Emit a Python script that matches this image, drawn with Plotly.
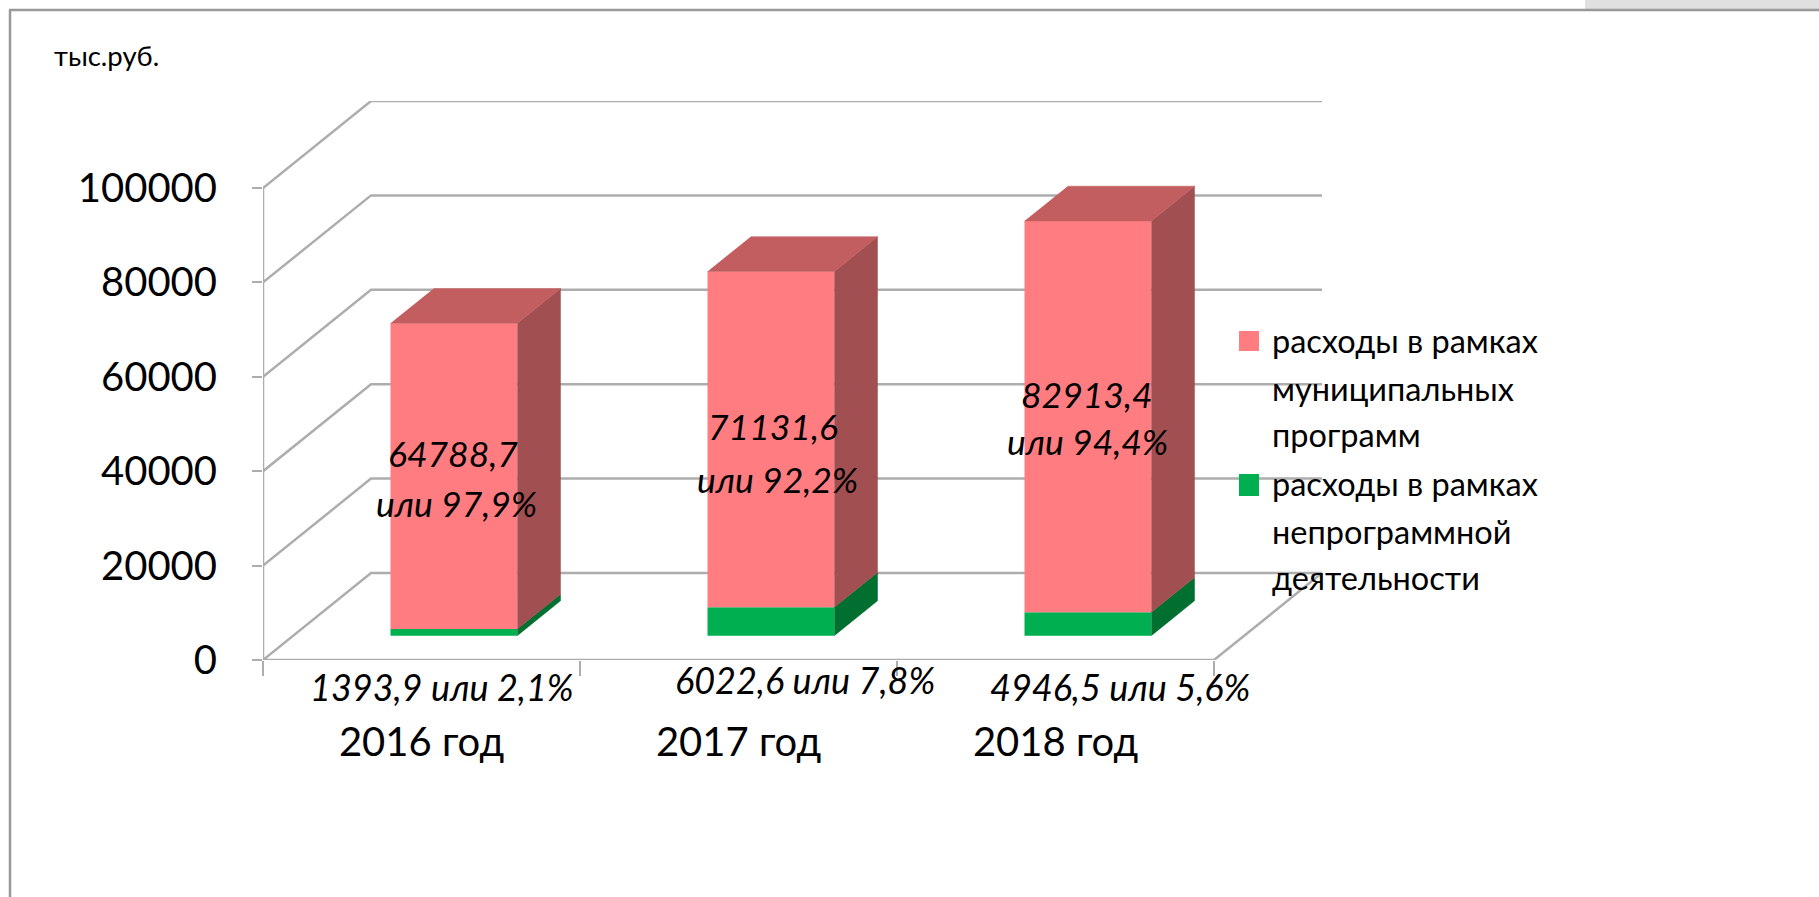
import plotly.graph_objects as go

# ---------- data ----------
categories = ["2016 год", "2017 год", "2018 год"]
municipal = [64788.7, 71131.6, 82913.4]
non_program = [1393.9, 6022.6, 4946.5]
municipal_pct = ["97,9%", "92,2%", "94,4%"]
non_program_pct = ["2,1%", "7,8%", "5,6%"]
y_ticks = [0, 20000, 40000, 60000, 80000, 100000]
unit_label = "тыс.руб."
legend_lines_a = ["расходы в рамках", "муниципальных", "программ"]
legend_lines_b = ["расходы в рамках", "непрограммной", "деятельности"]

# ---------- geometry / style ----------
W, H = 1819, 897
PX_LEFT, PX_RIGHT, PX_TOP, PX_BOTTOM = 263, 1322, 101, 660
DEPTH_X, DEPTH_Y = 0.3407, 18432.0
X_MIN, X_FRONT_MAX = -0.5, 2.5
Y_FRONT_MAX = 100000
BAR_W = 0.40
D0X, D0, D1 = 0.30, 0.28, 0.68   # front / back of the bars in the depth of the floor
GRID = "#adadad"
PINK, PINK_SIDE, PINK_TOP = "#ff7c80", "#a24f52", "#c25e60"
GREEN, GREEN_SIDE, GREEN_TOP = "#00b050", "#006f2f", "#008a3e"
FONT = "Lato"

xp = lambda px: px / W
yp = lambda py: 1 - py / H

x_pos = list(range(len(categories)))
fig = go.Figure()

# ---------- walls (main axes, behind the bars) ----------
gx, gy = [], []
for t in y_ticks:
    gx += [X_MIN, X_MIN + DEPTH_X, X_FRONT_MAX + DEPTH_X, None]
    gy += [t, t + DEPTH_Y, t + DEPTH_Y, None]
fig.add_trace(go.Scatter(x=gx, y=gy, mode="lines", line=dict(color=GRID, width=2.5),
                         hoverinfo="skip", showlegend=False))
fig.add_trace(go.Scatter(
    x=[X_MIN, X_MIN, None, X_MIN, X_FRONT_MAX, X_FRONT_MAX + DEPTH_X],
    y=[0, Y_FRONT_MAX, None, 0, 0, DEPTH_Y],
    mode="lines", line=dict(color=GRID, width=2.5), hoverinfo="skip", showlegend=False))

# ---------- bars (overlay axes) ----------
lift0 = D0 * DEPTH_Y
dx0 = D0X * DEPTH_X
dxs = (D1 - D0) * DEPTH_X
dys = (D1 - D0) * DEPTH_Y
bar_x = [c + dx0 for c in x_pos]

fig.add_trace(go.Bar(x=bar_x, y=non_program, base=[lift0] * 3, width=BAR_W,
                     marker=dict(color=GREEN, line=dict(width=0)),
                     name="расходы в рамках непрограммной деятельности",
                     xaxis="x2", yaxis="y2", showlegend=False))
fig.add_trace(go.Bar(x=bar_x, y=municipal, base=[lift0 + v for v in non_program], width=BAR_W,
                     marker=dict(color=PINK, line=dict(width=0)),
                     name="расходы в рамках муниципальных программ",
                     xaxis="x2", yaxis="y2", showlegend=False))


def face(xs, ys, color):
    fig.add_trace(go.Scatter(x=xs, y=ys, mode="lines", fill="toself", fillcolor=color,
                             line=dict(color=color, width=0.5), hoverinfo="skip",
                             showlegend=False, xaxis="x2", yaxis="y2"))


for c, g, m in zip(bar_x, non_program, municipal):
    r = c + BAR_W / 2
    l = c - BAR_W / 2
    b = lift0
    gt = b + g
    tp = gt + m
    face([r, r + dxs, r + dxs, r], [b, b + dys, gt + dys, gt], GREEN_SIDE)
    face([r, r + dxs, r + dxs, r], [gt, gt + dys, tp + dys, tp], PINK_SIDE)
    face([l, r, r + dxs, l + dxs], [tp, tp, tp + dys, tp + dys], PINK_TOP)

# ---------- frame ----------
shapes = [
    dict(type="rect", xref="paper", yref="paper", x0=xp(1585), x1=1, y0=yp(9), y1=1,
         fillcolor="#e0e0e0", line=dict(width=0), layer="below"),
    dict(type="line", xref="paper", yref="paper", x0=xp(9), x1=1, y0=yp(10), y1=yp(10),
         line=dict(color="#999999", width=2.5)),
    dict(type="line", xref="paper", yref="paper", x0=xp(10), x1=xp(10), y0=yp(10), y1=0,
         line=dict(color="#999999", width=2.5)),
    dict(type="rect", xref="paper", yref="paper", x0=xp(1239), x1=xp(1259), y0=yp(351), y1=yp(331),
         fillcolor=PINK, line=dict(width=0)),
    dict(type="rect", xref="paper", yref="paper", x0=xp(1239), x1=xp(1259), y0=yp(496), y1=yp(474),
         fillcolor=GREEN, line=dict(width=0)),
]

# ---------- texts ----------
annotations = []


def label(text, px, py, size, anchor="center", italic=False):
    annotations.append(dict(
        text=f"<i>{text}</i>" if italic else text,
        xref="paper", yref="paper", x=xp(px), y=yp(py),
        xanchor=anchor, yanchor="middle", showarrow=False,
        font=dict(family=FONT, size=size, color="black")))


label(unit_label, 52, 55, 27.5, "left")

LEGEND_YS = [340, 388, 434, 483, 531, 577]
for line, py in zip(legend_lines_a + legend_lines_b, LEGEND_YS):
    label(line, 1270, py, 32.5, "left")

TOP_LABEL_POS = [((453, 453), (456, 503)), ((773, 426), (777, 479)), ((1087, 394), (1087, 442))]
for v, pct, (p1, p2) in zip(municipal, municipal_pct, TOP_LABEL_POS):
    label(f"{v:.1f}".replace(".", ","), p1[0], p1[1], 35.5, italic=True)
    label(f"или {pct}", p2[0], p2[1], 35.5, italic=True)

LOW_LABEL_POS = [(442, 687), (805, 680), (1120, 687)]
for v, pct, p in zip(non_program, non_program_pct, LOW_LABEL_POS):
    label(f"{v:.1f}".replace(".", ",") + f" или {pct}", p[0], p[1], 36, italic=True)

x_range = [X_MIN, X_FRONT_MAX + DEPTH_X]
y_range = [0, Y_FRONT_MAX + DEPTH_Y]
x_dom = [xp(PX_LEFT), xp(PX_RIGHT)]
y_dom = [yp(PX_BOTTOM), yp(PX_TOP)]

fig.update_layout(
    width=W, height=H, autosize=False, margin=dict(l=0, r=0, t=0, b=0),
    paper_bgcolor="white", plot_bgcolor="rgba(0,0,0,0)",
    showlegend=False, barmode="overlay",
    shapes=shapes, annotations=annotations,
    font=dict(family=FONT, color="black"),
    xaxis=dict(domain=x_dom, range=x_range, automargin=False, showgrid=False, zeroline=False, showline=False,
               tickmode="array", tickvals=x_pos, ticktext=categories, ticks="", ticklen=0,
               tickfont=dict(family=FONT, size=40), ticklabelstandoff=55,
               minor=dict(tickmode="array", tickvals=[X_MIN + i for i in range(4)],
                          ticks="outside", ticklen=15, tickwidth=1.5, tickcolor=GRID, showgrid=False)),
    yaxis=dict(domain=y_dom, range=y_range, automargin=False, showgrid=False, zeroline=False, showline=False,
               tickmode="array", tickvals=y_ticks, ticktext=[str(t) for t in y_ticks],
               ticks="outside", ticklen=10, tickwidth=2, tickcolor=GRID,
               tickfont=dict(family=FONT, size=40), ticklabelstandoff=27),
    xaxis2=dict(domain=x_dom, range=x_range, overlaying="x", visible=False, automargin=False),
    yaxis2=dict(domain=y_dom, range=y_range, overlaying="y", visible=False, automargin=False),
)

fig.write_html("out.html", config={"displayModeBar": False, "responsive": False},
               post_script="document.body.style.margin='0';document.documentElement.style.overflow='hidden';")
